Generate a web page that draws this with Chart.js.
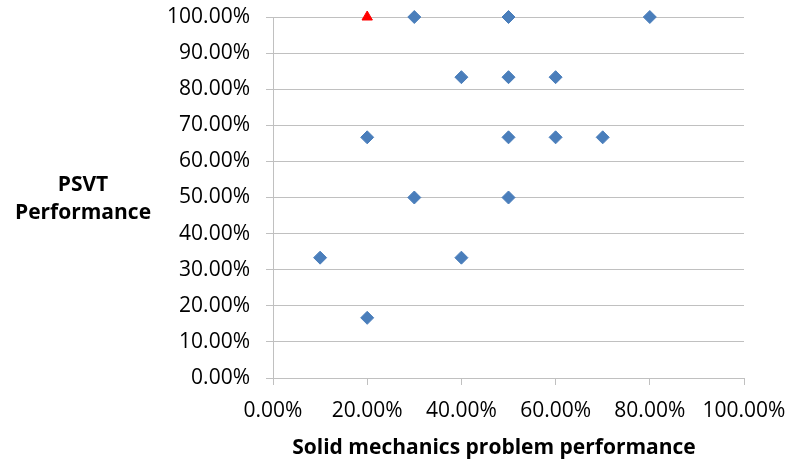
<!DOCTYPE html>
<html>
<head>
<meta charset="utf-8">
<script src="https://cdn.jsdelivr.net/npm/chart.js@4"></script>
<style>
  html, body { margin: 0; padding: 0; background: #fff; }
  #wrap { width: 792px; height: 461px; }
</style>
</head>
<body>
<div id="wrap"><canvas id="chart"></canvas></div>
<script>
// data (fractions of 100%)
const solidScores = [0.3, 0.5, 0.8, 0.4, 0.5, 0.6, 0.2, 0.5, 0.6, 0.7, 0.3, 0.5, 0.1, 0.4, 0.2]
const psvtScores = [1, 1, 1, 0.8333, 0.8333, 0.8333, 0.6667, 0.6667, 0.6667, 0.6667, 0.5, 0.5, 0.3333, 0.3333, 0.1667]
const markedSolid = [0.2]
const markedPsvt = [1]
const xTicks = [0, 0.2, 0.4, 0.6, 0.8, 1]
const yTicks = [0, 0.1, 0.2, 0.3, 0.4, 0.5, 0.6, 0.7, 0.8, 0.9, 1]

const xTitle = 'Solid mechanics problem performance'
const yTitle = ['PSVT', 'Performance']

const fontFamily = "'Open Sans', 'Liberation Sans', sans-serif"
const gridColor = '#c0c0c0'

// pair up x and y values
function pairs(xs, ys) {
  return xs.map((x, i) => ({ x: x, y: ys[i] }))
}

const pct = v => (v * 100).toFixed(2) + '%'

// titles drawn by hand so the y one can lie flat
const titlesPlugin = {
  id: 'titles',
  afterDraw(chart) {
    const ctx = chart.ctx
    ctx.save()
    ctx.fillStyle = '#000'
    ctx.font = 'bold 21px ' + fontFamily
    ctx.textAlign = 'center'
    ctx.textBaseline = 'middle'
    ctx.fillText(xTitle, 494, 448)
    ctx.fillText(yTitle[0], 83, 185)
    ctx.fillText(yTitle[1], 83, 213)
    ctx.restore()
  }
}

// keep label overhang from moving the plot box
function noOverhang(axis) {
  axis.paddingTop = 0
  axis.paddingBottom = 0
  axis.paddingLeft = 0
  axis.paddingRight = 0
}

const ctx = document.querySelector('#chart')

let scatterChart = new Chart(ctx, {
  type: 'scatter',
  data: {
    datasets: [{
      data: pairs(solidScores, psvtScores),
      pointStyle: 'rectRot',
      pointRadius: 6.5,
      pointHoverRadius: 6.5,
      backgroundColor: '#4a7ebb',
      borderColor: '#4a7ebb',
      borderWidth: 1,
      clip: false
    }, {
      data: pairs(markedSolid, markedPsvt),
      pointStyle: 'triangle',
      pointRadius: 6,
      pointHoverRadius: 6,
      backgroundColor: '#ff0000',
      borderColor: '#ff0000',
      borderWidth: 1,
      clip: false
    }]
  },
  options: {
    responsive: true,
    maintainAspectRatio: false,
    animation: false,
    events: [],
    layout: {
      padding: { top: 17, right: 48, left: 0, bottom: 0 }
    },
    plugins: {
      legend: { display: false },
      tooltip: { enabled: false }
    },
    scales: {
      x: {
        type: 'linear',
        min: 0,
        max: 1,
        afterBuildTicks: axis => { axis.ticks = xTicks.map(v => ({ value: v })) },
        afterFit: axis => { axis.height = 83; noOverhang(axis) },
        grid: {
          drawOnChartArea: false,
          drawTicks: true,
          tickLength: 7,
          color: gridColor
        },
        border: { color: gridColor },
        ticks: {
          padding: 13,
          color: '#000',
          font: { family: fontFamily, size: 21 },
          callback: v => pct(v),
          maxRotation: 0
        }
      },
      y: {
        type: 'linear',
        min: 0,
        max: 1,
        afterBuildTicks: axis => { axis.ticks = yTicks.map(v => ({ value: v })) },
        afterFit: axis => { axis.width = 273; noOverhang(axis) },
        grid: {
          drawTicks: true,
          tickLength: 7,
          color: gridColor
        },
        border: { color: gridColor },
        ticks: {
          padding: 16,
          color: '#000',
          font: { family: fontFamily, size: 21 },
          callback: v => pct(v)
        }
      }
    }
  },
  plugins: [titlesPlugin]
})
</script>
</body>
</html>
